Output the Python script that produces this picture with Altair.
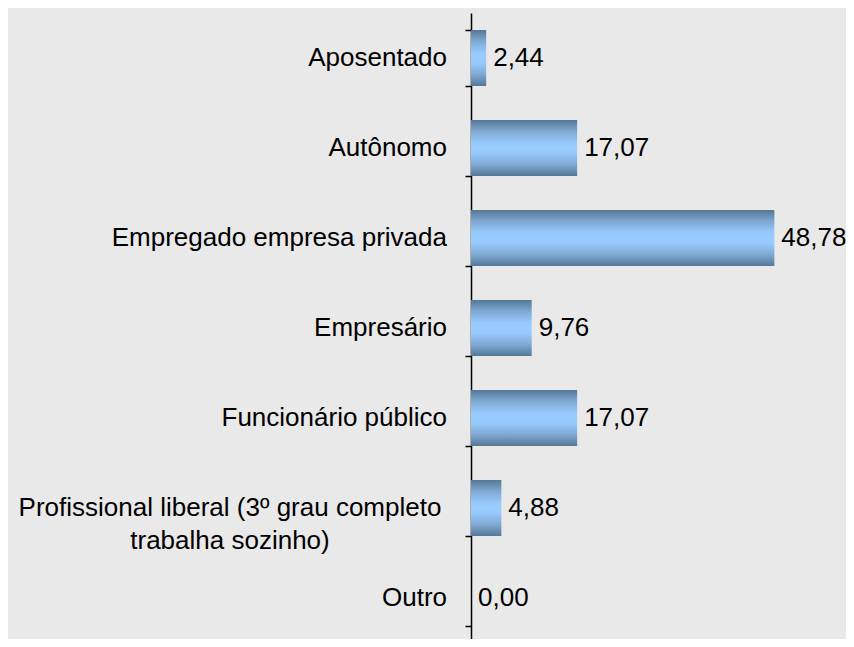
import altair as alt
import pandas as pd

categories = [
    "Aposentado",
    "Autônomo",
    "Empregado empresa privada",
    "Empresário",
    "Funcionário público",
    "Profissional liberal (3º grau completo\ntrabalha sozinho)",
    "Outro",
]
values = [2.44, 17.07, 48.78, 9.76, 17.07, 4.88, 0.00]

df = pd.DataFrame({"categoria": categories, "valor": values})
df["multi"] = df["categoria"].str.contains("\n")

FONT = "Liberation Sans"

y_enc = alt.Y(
    "categoria:N",
    sort=categories,
    scale=alt.Scale(range=[0, 630], paddingInner=0.378, paddingOuter=0.189),
    axis=alt.Axis(
        labels=False,
        title=None,
        tickBand="extent",
        tickSize=6,
        tickWidth=1.5,
        tickColor="#000000",
        domainColor="#000000",
        domainWidth=1.5,
        grid=False,
    ),
)
x_scale = alt.Scale(domain=[0, 60.3])

grad = alt.LinearGradient(
    gradient="linear",
    x1=0, x2=0, y1=0, y2=1,
    stops=[
        alt.GradientStop(color="#557797", offset=0),
        alt.GradientStop(color="#7ea8d2", offset=0.2),
        alt.GradientStop(color="#96c8fb", offset=0.4),
        alt.GradientStop(color="#99ccff", offset=0.5),
        alt.GradientStop(color="#96c8fb", offset=0.6),
        alt.GradientStop(color="#7ea8d2", offset=0.8),
        alt.GradientStop(color="#557797", offset=1),
    ],
)

base = alt.Chart(df)

bars = base.mark_bar(color=grad).encode(
    x=alt.X("valor:Q", scale=x_scale, axis=None),
    y=y_enc,
)

vals = base.transform_calculate(
    lbl="replace(format(datum.valor, '.2f'), '.', ',')"
).mark_text(
    align="left", baseline="middle", dx=7, font=FONT, fontSize=26, color="#000000"
).encode(
    x=alt.X("valor:Q", scale=x_scale, axis=None),
    y=alt.Y("categoria:N", sort=categories),
    text="lbl:N",
)

labels_single = base.transform_filter("!datum.multi").mark_text(
    align="right", baseline="middle", font=FONT, fontSize=26, color="#000000"
).encode(
    x=alt.value(-24),
    y=alt.Y("categoria:N", sort=categories),
    text="categoria:N",
)

labels_multi = base.transform_filter("datum.multi").mark_text(
    align="center", baseline="middle", font=FONT, fontSize=26, color="#000000",
    lineBreak="\n", lineHeight=33,
).encode(
    x=alt.value(-241),
    y=alt.Y("categoria:N", sort=categories),
    text="categoria:N",
)

chart = alt.layer(bars, vals, labels_single, labels_multi).properties(
    width=375,
    height=626,
    padding={"left": 463, "top": 5, "right": 0, "bottom": 0},
    autosize=alt.AutoSizeParams(type="none"),
    background="#e9e9e9",
).configure_view(stroke=None)

chart.save("out.html", embed_options={"renderer": "svg", "actions": False})
